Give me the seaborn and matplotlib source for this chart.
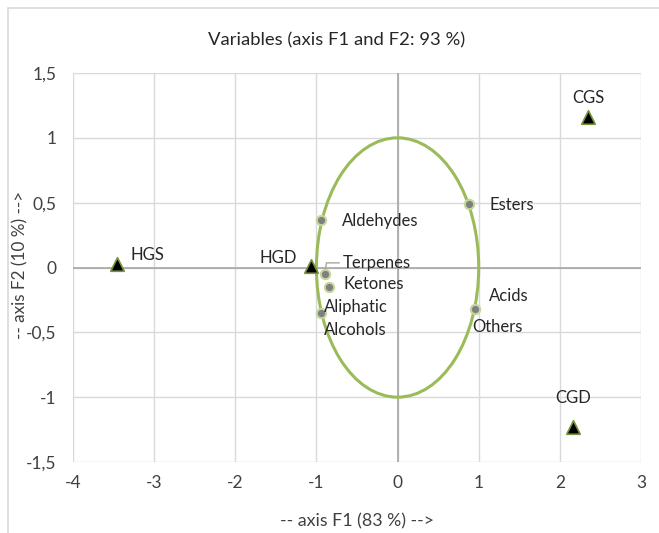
import numpy as np
import pandas as pd
import seaborn as sns
import matplotlib
matplotlib.use("Agg")
import matplotlib.pyplot as plt
from matplotlib.patches import Ellipse, Rectangle

# Data
obs_names = ["CGS", "CGD", "HGS", "HGD"]
obs_f1 = [2.35, 2.16, -3.46, -1.07]
obs_f2 = [1.16, -1.23, 0.03, 0.01]

var_names = ["Aldehydes", "Esters", "Terpenes", "Ketones", "Aliphatic\nAlcohols", "Acids\n\nOthers"]
var_f1 = [-0.94, 0.88, -0.90, -0.84, -0.94, 0.95]
var_f2 = [0.37, 0.49, -0.05, -0.15, -0.35, -0.32]

x_ticks = [-4, -3, -2, -1, 0, 1, 2, 3]
y_ticks = [-1.5, -1, -0.5, 0, 0.5, 1, 1.5]
y_tick_labels = ["-1,5", "-1", "-0,5", "0", "0,5", "1", "1,5"]

sns.set_theme(style="white")
plt.rcParams['font.family'] = ['Lato', 'DejaVu Sans']

fig = plt.figure(figsize=(6.59, 5.33), dpi=100)
ax = fig.add_axes([73/659, 1-462/533, (641-73)/659, (462-73)/533])

# figure border
fig.patches.append(Rectangle((8/659, -0.1), 1.2, 1-8/533+0.1, transform=fig.transFigure,
                             fill=False, edgecolor="#d9d9d9", lw=1.2))

ax.set_xlim(-4, 3)
ax.set_ylim(-1.5, 1.5)
ax.set_xticks(x_ticks)
ax.set_yticks(y_ticks)
ax.set_xticklabels([str(v) for v in x_ticks])
ax.set_yticklabels(y_tick_labels)
ax.grid(True, color="#d9d9d9", lw=1)
ax.set_axisbelow(True)
for s in ax.spines.values():
    s.set_visible(False)
ax.tick_params(axis="both", length=0, labelsize=12.5, colors="#404040")
ax.tick_params(axis="y", pad=12)
ax.tick_params(axis="x", pad=9)
ax.axhline(0, color="#a6a6a6", lw=1.2, zorder=1)
ax.axvline(0, color="#a6a6a6", lw=1.2, zorder=1)

# correlation circle
ax.add_patch(Ellipse((0, 0), 2, 2, fill=False, edgecolor="#9BBB59", lw=2.2, zorder=2))

obs = pd.DataFrame({"F1": obs_f1, "F2": obs_f2, "name": obs_names})
var = pd.DataFrame({"F1": var_f1, "F2": var_f2, "name": var_names})

sns.scatterplot(data=var, x="F1", y="F2", ax=ax, marker="o", s=45,
                color="#7f7f7f", edgecolor="#c3d69b", linewidth=1.5, zorder=3)
sns.scatterplot(data=obs, x="F1", y="F2", ax=ax, marker="^", s=95,
                color="black", edgecolor="#77933c", linewidth=1.2, zorder=3)
ax.set_xlabel("")
ax.set_ylabel("")

fs = 12
tc = "#262626"
obs_offsets = {"CGS": (0, 14, "center"), "CGD": (0, 21, "center"),
               "HGS": (10, 6, "left"), "HGD": (-10, 6, "right")}
for n, x, y in zip(obs_names, obs_f1, obs_f2):
    dx, dy, ha = obs_offsets[n]
    ax.annotate(n, (x, y), xytext=(dx, dy), textcoords="offset points",
                ha=ha, va="center", fontsize=fs, color=tc)

var_offsets = {"Aldehydes": (15, -1, "left"), "Esters": (15, -1, "left"),
               "Terpenes": (13, 8, "left"), "Ketones": (10, 2, "left")}
for n, x, y in zip(var_names, var_f1, var_f2):
    if n == "Terpenes":
        dx, dy, ha = var_offsets[n]
        ax.annotate(n, (x, y), xytext=(dx, dy), textcoords="offset points",
                    ha=ha, va="center", fontsize=fs, color=tc,
                    arrowprops=dict(arrowstyle="-", color="#a6a6a6", lw=1,
                                    shrinkA=0, shrinkB=4,
                                    connectionstyle="angle,angleA=0,angleB=80,rad=0"))
    elif n == "Acids\n\nOthers":
        ax.annotate("Acids", (x, y), xytext=(10, 9), textcoords="offset points",
                    ha="left", va="center", fontsize=fs, color=tc)
        ax.annotate("Others", (x, y), xytext=(-2, -13), textcoords="offset points",
                    ha="left", va="center", fontsize=fs, color=tc)
    elif n == "Aliphatic\nAlcohols":
        ax.annotate("Aliphatic", (x, y), xytext=(2, 4), textcoords="offset points",
                    ha="left", va="center", fontsize=fs, color=tc)
        ax.annotate("Alcohols", (x, y), xytext=(2, -12), textcoords="offset points",
                    ha="left", va="center", fontsize=fs, color=tc)
    else:
        dx, dy, ha = var_offsets[n]
        ax.annotate(n, (x, y), xytext=(dx, dy), textcoords="offset points",
                    ha=ha, va="center", fontsize=fs, color=tc)

fig.text(337/659, 1-40/533, "Variables (axis F1 and F2: 93 %)", ha="center", va="center",
         fontsize=13.3, color=tc)
fig.text(357/659, 1-521/533, "-- axis F1 (83 %) -->", ha="center", va="center",
         fontsize=12.8, color="#404040")
fig.text(20/659, 1-265/533, "-- axis F2 (10 %) -->", ha="center", va="center",
         rotation=90, fontsize=12.3, color="#404040")

fig.savefig("out.png", dpi=100)
